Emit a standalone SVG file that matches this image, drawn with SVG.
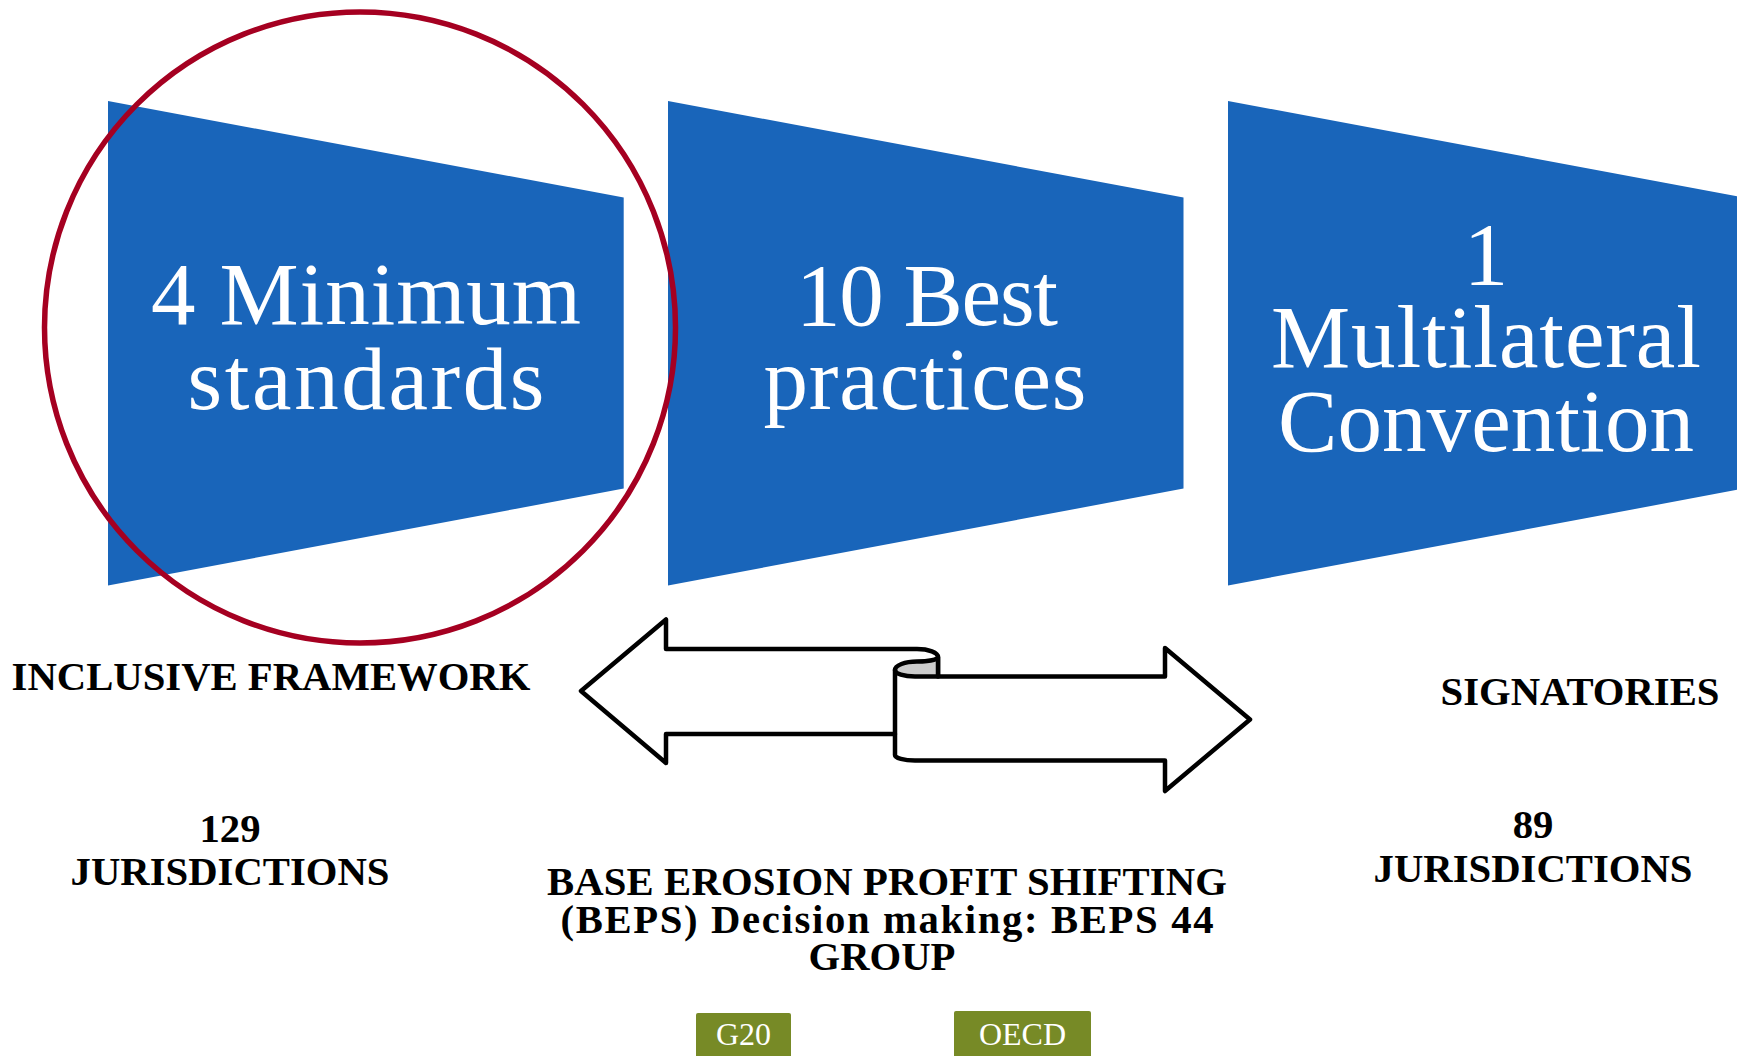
<svg xmlns="http://www.w3.org/2000/svg" width="1737" height="1056" viewBox="0 0 1737 1056">
<style>
.trap{fill:#1965BA;}
.big{font-family:"Liberation Serif","Times New Roman",serif;font-size:89px;fill:#FFFFFF;text-anchor:middle;}
.lbl{font-family:"Liberation Serif","Times New Roman",serif;font-size:40.7px;font-weight:bold;fill:#000000;text-anchor:middle;}
.tag{fill:#778A26;}
.tagtxt{font-family:"Liberation Serif","Times New Roman",serif;font-size:32px;fill:#FFFFFF;text-anchor:middle;}
.rib{fill:#FFFFFF;stroke:#000000;stroke-width:4.5;stroke-linejoin:round;stroke-linecap:round;}
</style>
<rect x="0" y="0" width="1737" height="1056" fill="#FFFFFF"/>

<g id="node-minimum-standards">
<polygon class="trap" points="108,101 623.7,197.5 623.7,488.6 108,585.5"/>
<text class="big"><tspan x="366" y="324" textLength="430" lengthAdjust="spacing">4 Minimum</tspan><tspan x="366" y="409" textLength="357" lengthAdjust="spacing">standards</tspan></text>
</g>

<g id="node-best-practices">
<polygon class="trap" points="668,101 1183.5,197.5 1183.5,488.6 668,585.5"/>
<text class="big"><tspan x="927" y="325" textLength="262" lengthAdjust="spacing">10 Best</tspan><tspan x="925" y="409" textLength="323" lengthAdjust="spacing">practices</tspan></text>
</g>

<g id="node-multilateral-convention">
<polygon class="trap" points="1228,101 1743.5,197.5 1743.5,488.6 1228,585.5"/>
<text class="big"><tspan x="1486" y="284">1</tspan><tspan x="1486" y="367" textLength="430" lengthAdjust="spacing">Multilateral</tspan><tspan x="1486" y="451" textLength="416" lengthAdjust="spacing">Convention</tspan></text>
</g>

<g id="highlight-circle">
<circle cx="360" cy="327.5" r="315.5" fill="none" stroke="#A50021" stroke-width="5.5"/>
</g>

<g id="label-inclusive-framework">
<text class="lbl" x="271" y="690">INCLUSIVE FRAMEWORK</text>
</g>

<g id="label-129-jurisdictions">
<text class="lbl"><tspan x="230" y="842">129</tspan><tspan x="230" y="885">JURISDICTIONS</tspan></text>
</g>

<g id="label-signatories">
<text class="lbl" x="1580" y="705">SIGNATORIES</text>
</g>

<g id="label-89-jurisdictions">
<text class="lbl"><tspan x="1533" y="838">89</tspan><tspan x="1533" y="882">JURISDICTIONS</tspan></text>
</g>

<g id="label-beps">
<text class="lbl"><tspan x="887" y="895" textLength="680" lengthAdjust="spacing">BASE EROSION PROFIT SHIFTING</tspan><tspan x="887" y="933" textLength="653" lengthAdjust="spacing">(BEPS) Decision making: BEPS 44</tspan><tspan x="882" y="970">GROUP</tspan></text>
</g>

<g id="node-g20">
<rect class="tag" x="696" y="1013" width="95" height="60" rx="2"/>
<text class="tagtxt" x="743.5" y="1045">G20</text>
</g>

<g id="node-oecd">
<rect class="tag" x="954" y="1011" width="137" height="60" rx="2"/>
<text class="tagtxt" x="1022.5" y="1045">OECD</text>
</g>

<g id="connectors">
<path class="rib" d="M 581,691 L 666,619.5 L 666,649 L 917,649 A 21,8 0 0 1 938,657 L 938,676.5 L 1165,676.5 L 1165,648 L 1250,719.5 L 1165,791 L 1165,760.5 L 915,760.5 A 20,5.5 0 0 1 895,755 L 895,734 L 666,734 L 666,763 Z"/>
<path class="rib" style="fill:#CCCCCC" d="M 895,670 A 20,6.5 0 0 0 915,676.5 L 938,676.5 L 938,657 A 21,4.5 0 0 1 917,661.5 A 22,8.5 0 0 0 895,670 Z"/>
<path class="rib" style="fill:none" d="M 895,670 L 895,734"/>
</g>
</svg>
